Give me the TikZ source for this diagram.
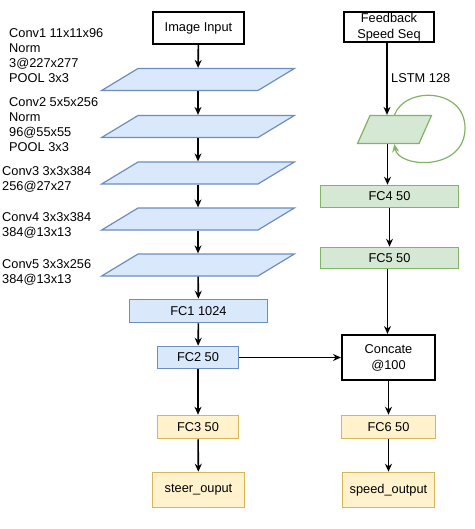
\documentclass[tikz,border=0pt]{standalone}
\usepackage{fontspec}
\setmainfont{Liberation Sans}
\usepackage{xcolor}
\usetikzlibrary{arrows.meta,shapes.geometric}
\definecolor{cnnfill}{HTML}{DAE8FC}
\definecolor{cnnline}{HTML}{6C8EBF}
\definecolor{rnnfill}{HTML}{D5E8D4}
\definecolor{rnnline}{HTML}{82B366}
\definecolor{outfill}{HTML}{FFF2CC}
\definecolor{outline}{HTML}{D6B656}

\begin{document}
\begin{tikzpicture}[x=1pt,y=-1pt,>={Stealth[length=8pt,width=7pt]},
font=\fontsize{12.8}{15}\selectfont,
every node/.style={inner sep=0pt},
io/.style={draw,line width=2pt,align=center,font=\fontsize{12.8}{16}\selectfont},
conv/.style={draw=cnnline,fill=cnnfill,line width=1.2pt,trapezium,trapezium left angle=31.2,trapezium right angle=148.8,inner xsep=60pt,inner ysep=11pt},
fcb/.style={draw=cnnline,fill=cnnfill,line width=1.5pt},
fcg/.style={draw=rnnline,fill=rnnfill,line width=1.5pt},
fcy/.style={draw=outline,fill=outfill,line width=1.5pt},
arr/.style={->,line width=1.6pt},
lab/.style={anchor=west,align=left}]
\useasboundingbox (0,0) rectangle (474,529);
\node[io,minimum width=91pt,minimum height=32pt] (img) at (198.5,28) {Image Input};
\node[io,minimum width=90pt,minimum height=30pt] (fb) at (389,27) {Feedback\\Speed Seq};
\node[conv] (c1) at (198,79.5) {};
\node[conv] (c2) at (198,126.5) {};
\node[conv] (c3) at (198,173) {};
\node[conv] (c4) at (198,219) {};
\node[conv] (c5) at (198,265) {};
\node[fcb,minimum width=138pt,minimum height=23pt] (fc1) at (198.5,311) {FC1 1024};
\node[fcb,minimum width=81pt,minimum height=22pt] (fc2) at (198,357.5) {FC2 50};
\node[fcy,minimum width=81pt,minimum height=23pt] (fc3) at (198,427) {FC3 50};
\node[fcy,minimum width=92pt,minimum height=35pt] (steer) at (198.5,490) {steer\_ouput};
\node[draw=rnnline,fill=rnnfill,line width=1.2pt,trapezium,trapezium left angle=66,trapezium right angle=114,inner xsep=24.5pt,inner ysep=14pt] (lstm) at (394.5,129.5) {};
\node[fcg,minimum width=138pt,minimum height=22pt] (fc4) at (389.5,196.5) {FC4 50};
\node[fcg,minimum width=138pt,minimum height=21pt] (fc5) at (389.5,258) {FC5 50};
\node[io,minimum width=93pt,minimum height=45pt] (cc) at (388.5,357.5) {Concate\\@100};
\node[fcy,minimum width=94pt,minimum height=23pt] (fc6) at (388.5,427) {FC6 50};
\node[fcy,minimum width=92pt,minimum height=35pt] (speed) at (388.5,490) {speed\_output};
\node[lab] (l1) at (9,55.5) {Conv1 11x11x96\\Norm\\3@227x277\\POOL 3x3};
\node[lab] (l2) at (9,124.5) {Conv2 5x5x256\\Norm\\96@55x55\\POOL 3x3};
\node[lab] (l3) at (2,179.5) {Conv3 3x3x384\\256@27x27};
\node[lab] (l4) at (2,225.5) {Conv4 3x3x384\\384@13x13};
\node[lab] (l5) at (2,272) {Conv5 3x3x256\\384@13x13};
\node[anchor=west] (lt) at (391,78) {LSTM 128};
\draw[arr] (img) -- (c1);
\foreach \a/\b in {c1/c2,c2/c3,c3/c4,c4/c5,c5/fc1,fc1/fc2,fc2/fc3,fc3/steer}
\draw[arr] (\a) -- (\b);
\draw[arr] (fc2) -- (cc);
\draw[arr] ([xshift=-2pt]fb.south) -- ([xshift=-2pt]fb.south |- lstm.north);
\draw[arr] ([xshift=-2pt]fc4.north |- lstm.south) -- ([xshift=-2pt]fc4.north);
\draw[arr] (fc4) -- (fc5);
\draw[arr] ([xshift=-2pt]fc5.south) -- ([xshift=-2pt]fc5.south |- cc.north);
\draw[arr] (cc) -- (fc6);
\draw[arr] (fc6) -- (speed);
\draw[rnnline,line width=1.2pt,->] (lstm.north) .. controls (405,86) and (465,88) .. (465,128) .. controls (465,172) and (398,168) .. (lstm.south);
\end{tikzpicture}
\end{document}
